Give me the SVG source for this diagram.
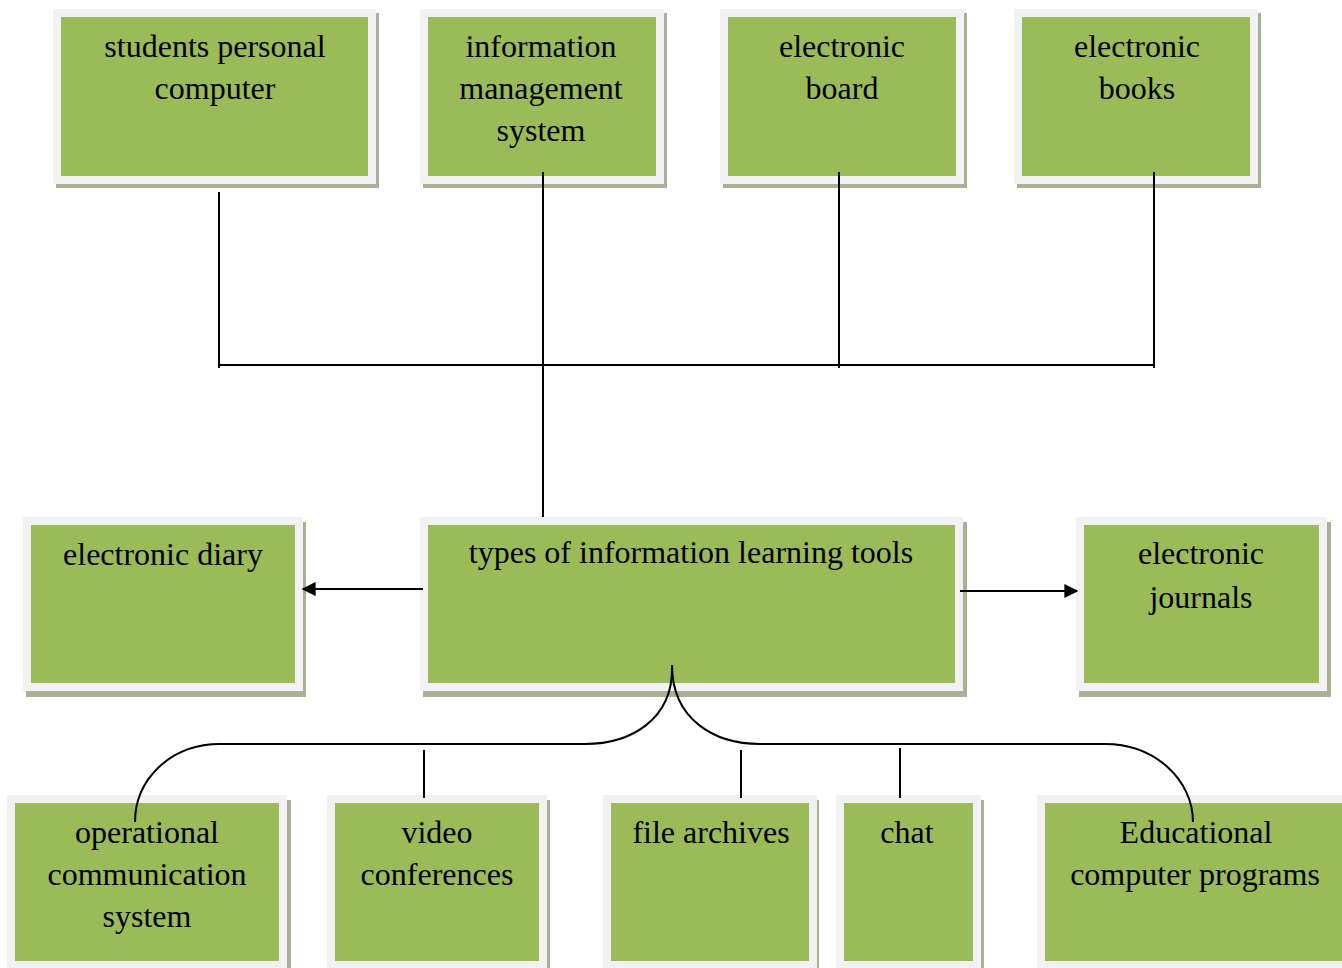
<svg xmlns="http://www.w3.org/2000/svg" width="1342" height="968" viewBox="0 0 1342 968">
<style>
.sh{fill:#a7b195}
.bx{fill:#9bbb59;stroke:#f2f2f2;stroke-width:8}
.t{font-family:"Liberation Serif","Times New Roman",serif;font-size:32px;fill:#000;text-anchor:middle}
.c{fill:none;stroke:#000;stroke-width:2}
</style>
<defs>
<marker id="ah" viewBox="0 0 10 10" refX="9" refY="5" markerWidth="7" markerHeight="7" orient="auto">
<path d="M0,0 L10,5 L0,10 z" fill="#000"/>
</marker>
</defs>
<rect width="1342" height="968" fill="#fff"/>

<g id="n1">
<rect class="sh" x="56" y="13" width="323" height="175"/>
<rect class="bx" x="57" y="13" width="315" height="167"/>
<text class="t" x="215" y="57">students personal</text>
<text class="t" x="215" y="99">computer</text>
</g>
<g id="n2">
<rect class="sh" x="423" y="13" width="244" height="175"/>
<rect class="bx" x="424" y="13" width="236" height="167"/>
<text class="t" x="541" y="57">information</text>
<text class="t" x="541" y="99">management</text>
<text class="t" x="541" y="141">system</text>
</g>
<g id="n3">
<rect class="sh" x="723" y="13" width="244" height="175"/>
<rect class="bx" x="724" y="13" width="236" height="167"/>
<text class="t" x="842" y="57">electronic</text>
<text class="t" x="842" y="99">board</text>
</g>
<g id="n4">
<rect class="sh" x="1017" y="13" width="244" height="175"/>
<rect class="bx" x="1018" y="13" width="236" height="167"/>
<text class="t" x="1137" y="57">electronic</text>
<text class="t" x="1137" y="99">books</text>
</g>

<g id="n5">
<rect class="sh" x="26" y="522" width="280" height="175"/>
<rect class="bx" x="27" y="521" width="272" height="166"/>
<text class="t" x="163" y="565">electronic diary</text>
</g>
<g id="n6">
<rect class="sh" x="423" y="522" width="544" height="175"/>
<rect class="bx" x="424" y="521" width="535" height="166"/>
<text class="t" x="691" y="563">types of information learning tools</text>
</g>
<g id="n7">
<rect class="sh" x="1079" y="522" width="252" height="175"/>
<rect class="bx" x="1080" y="521" width="243" height="166"/>
<text class="t" x="1201" y="564">electronic</text>
<text class="t" x="1201" y="608">journals</text>
</g>

<g id="n8">
<rect class="sh" x="10" y="800" width="281" height="175"/>
<rect class="bx" x="11" y="799" width="272" height="166"/>
<text class="t" x="147" y="843">operational</text>
<text class="t" x="147" y="885">communication</text>
<text class="t" x="147" y="927">system</text>
</g>
<g id="n9">
<rect class="sh" x="330" y="800" width="220" height="175"/>
<rect class="bx" x="331" y="799" width="212" height="166"/>
<text class="t" x="437" y="843">video</text>
<text class="t" x="437" y="885">conferences</text>
</g>
<g id="n10">
<rect class="sh" x="606" y="800" width="213" height="175"/>
<rect class="bx" x="607" y="799" width="206" height="166"/>
<text class="t" x="711" y="843">file archives</text>
</g>
<g id="n11">
<rect class="sh" x="839" y="800" width="145" height="175"/>
<rect class="bx" x="840" y="799" width="137" height="166"/>
<text class="t" x="907" y="843">chat</text>
</g>
<g id="n12">
<rect class="sh" x="1040" y="800" width="320" height="175"/>
<rect class="bx" x="1041" y="799" width="320" height="166"/>
<text class="t" x="1196" y="843">Educational</text>
<text class="t" x="1195" y="885">computer programs</text>
</g>

<g id="connectors">
<path class="c" d="M219,192 V368"/>
<path class="c" d="M543,172 V517"/>
<path class="c" d="M839,172 V368"/>
<path class="c" d="M1154,172 V368"/>
<path class="c" d="M219,365 H1154"/>
<path class="c" d="M423,589 H303" marker-end="url(#ah)"/>
<path class="c" d="M960,591 H1077" marker-end="url(#ah)"/>
<path class="c" d="M672,665 C674,720 630,744 585,744 H220 C170,744 135,780 135,822"/>
<path class="c" d="M672,665 C672,720 715,744 760,744 H1105 C1155,744 1193,780 1193,822"/>
<path class="c" d="M424,750 V798"/>
<path class="c" d="M741,750 V798"/>
<path class="c" d="M900,748 V798"/>
</g>
</svg>
